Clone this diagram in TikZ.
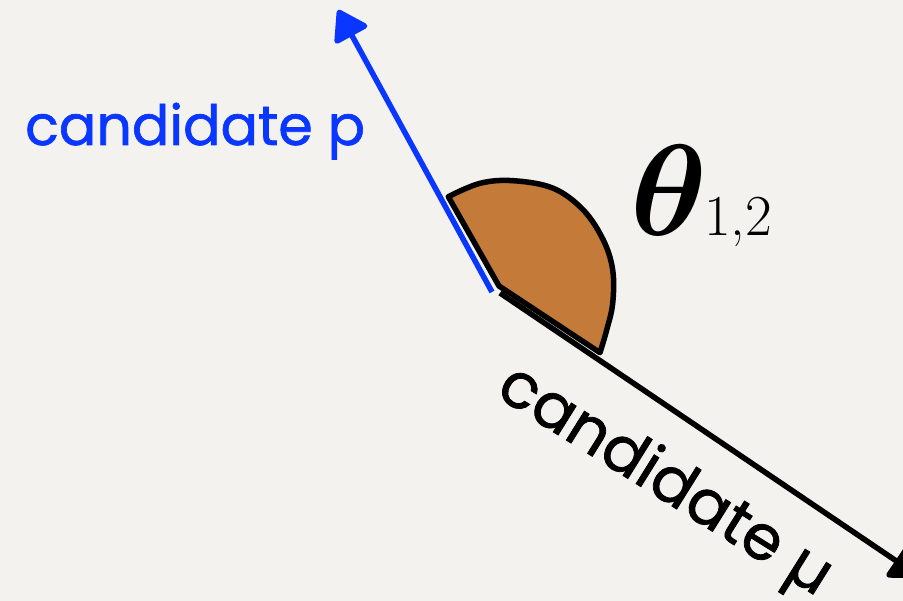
\documentclass[tikz,border=0pt]{standalone}
\usepackage{fontspec}
\usepackage{bm}
\usetikzlibrary{arrows.meta}
\newfontfamily\comicfont{Poppins}[FakeBold=1.2]
\definecolor{bgpaper}{RGB}{243,242,239}
\definecolor{candblue}{RGB}{10,55,255}
\definecolor{sectorfill}{RGB}{196,122,56}
\tikzset{
  vecline/.style={line width=5.5pt, -{Triangle[length=32pt,width=40pt,round]}},
  lbl/.style={inner sep=0pt, font=\comicfont\fontsize{55.5}{55.5}\selectfont},
  lblbig/.style={inner sep=0pt, font=\comicfont\fontsize{62.5}{62.5}\selectfont}
}
\begin{document}
\begin{tikzpicture}[x=1pt,y=-1pt]
\fill[bgpaper] (0,0) rectangle (903,601);
\useasboundingbox (0,0) rectangle (903,601);
\clip (0,0) rectangle (903,601);
% key points
\coordinate (Ob) at (492,292);
\coordinate (P) at (338,10);
\coordinate (Om) at (500,293);
\coordinate (M) at (920,577);
% blue vector
\draw[vecline, candblue] (Ob) -- (P);
% black vector
\draw[vecline, black] (Om) -- (M);
% angle sector
\filldraw[fill=sectorfill, draw=black, line width=5.5pt, line join=round]
  (499,286) -- (448.3,196.7)
  -- plot[smooth, tension=0.6] coordinates {(448.3,196.7) (480,183.3) (513.3,180.7) (553.3,188.3) (583.3,210) (603.3,240) (612.7,270) (612.7,303.3) (606.7,330) (600,352.7)}
  -- cycle;
% labels
\node[lbl, text=candblue, anchor=base west] (lp) at (25,145) {candidate p};
\node[lblbig, text=black, anchor=base west, rotate=-32] (lm) at (494,395) {candidate µ};
\node[inner sep=0pt, anchor=base west] (th) at (630,236) {\scalebox{13}{$\bm{\theta}$}};
\node[inner sep=0pt, anchor=base west] (sub) at (704,236) {\fontsize{58}{58}\selectfont 1,2};
\end{tikzpicture}
\end{document}
